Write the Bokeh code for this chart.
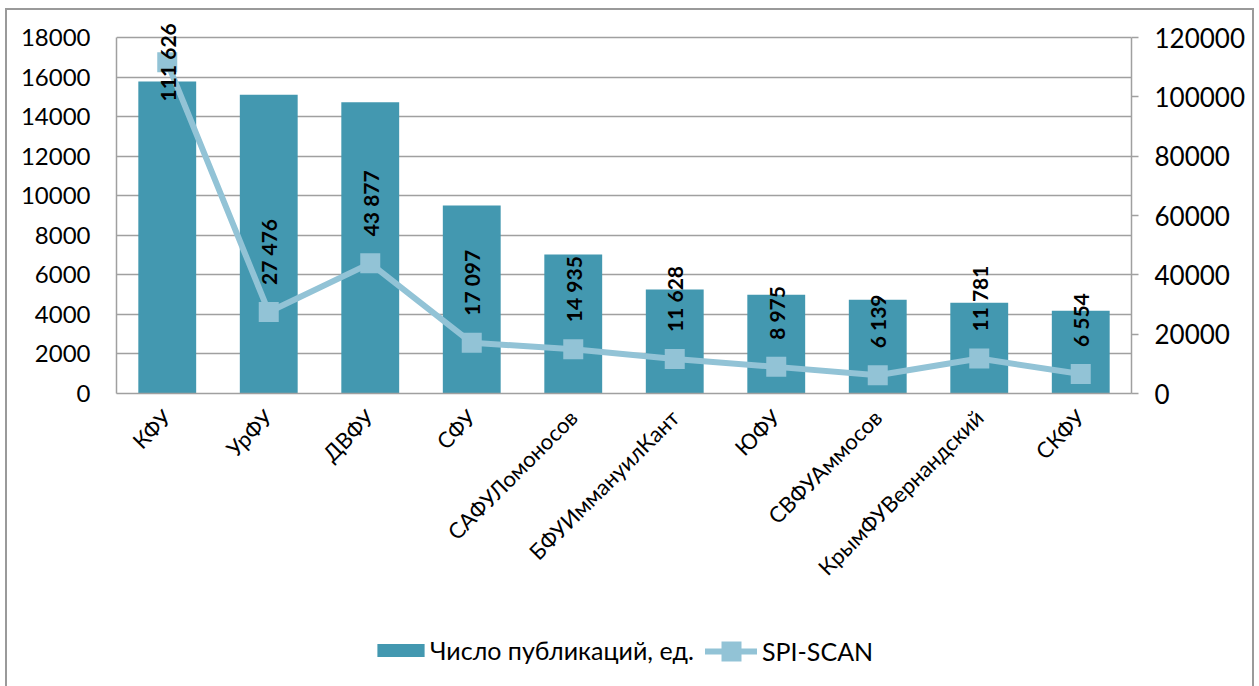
from bokeh.plotting import figure
from bokeh.models import (ColumnDataSource, FactorRange, Range1d, LinearAxis, FixedTicker,
                          Legend, LegendItem, NumeralTickFormatter)
from bokeh.layouts import column
from bokeh.core.properties import value
from bokeh.embed import file_html
from bokeh.resources import INLINE
import math

categories = ["КФУ", "УрФУ", "ДВФУ", "СФУ", "САФУЛомоносов", "БФУИммануилКант",
              "ЮФУ", "СВФУАммосов", "КрымФУВернандский", "СКФУ"]
publications = [15780, 15110, 14720, 9500, 7030, 5260, 4990, 4740, 4590, 4180]
spi_scan = [111626, 27476, 43877, 17097, 14935, 11628, 8975, 6139, 11781, 6554]
left_ticks = list(range(0, 18001, 2000))
right_ticks = list(range(0, 120001, 20000))
left_max, right_max = 18000, 120000

FONT = "Lato"
BAR = "#4398b0"
LINE = "#92c3d6"
GRID = "#a0a0a0"
BORDER = "#9a9a9a"

# layout (pixels)
W, H_MAIN, H_LEG = 1259, 620, 66
F_LEFT, F_RIGHT, F_BOTTOM, AX_TOP, F_TOP = 116, 1131, 393, 37, 17
scale_up = (F_BOTTOM - F_TOP) / (F_BOTTOM - AX_TOP)

labels = [f"{v:,}".replace(",", " ") for v in spi_scan]
aligns = ["center" if v > 90000 else "left" for v in spi_scan]
offs = [0 if v > 90000 else -27 for v in spi_scan]

src = ColumnDataSource(dict(cat=categories, pub=publications, spi=spi_scan,
                            lab=labels, al=aligns, off=offs))

p = figure(width=W, height=H_MAIN, x_range=FactorRange(*categories),
           y_range=Range1d(0, left_max * scale_up), output_backend="svg",
           toolbar_location=None,
           min_border_left=F_LEFT, min_border_right=W - F_RIGHT, min_border_top=F_TOP,
           min_border_bottom=H_MAIN - F_BOTTOM)
p.extra_y_ranges = {"spi": Range1d(0, right_max * scale_up)}
p.border_fill_color = None
p.background_fill_color = None

bars = p.vbar(x="cat", top="pub", width=0.57, source=src, fill_color=BAR, line_color=None)
ln = p.line(x="cat", y="spi", source=src, y_range_name="spi", line_color=LINE,
            line_width=6, line_cap="round", line_join="round")
sq = p.scatter(x="cat", y="spi", source=src, y_range_name="spi", marker="square",
               size=20, fill_color=LINE, line_color=None)
p.text(x="cat", y="spi", text="lab", source=src, y_range_name="spi",
       angle=math.pi / 2, text_align="al", text_baseline="middle", y_offset="off",
       text_font=value(FONT), text_font_size="21px", text_font_style="bold",
       text_color="black")

p.outline_line_color = None
p.xgrid.grid_line_color = None
p.ygrid.grid_line_color = GRID
p.ygrid.grid_line_width = 1.5
p.ygrid.ticker = FixedTicker(ticks=left_ticks)

ya = p.yaxis[0]
ya.ticker = FixedTicker(ticks=left_ticks)
ya.bounds = (0, left_max)
ya.axis_line_color = GRID
ya.axis_line_width = 1.5
ya.major_tick_line_color = None
ya.minor_tick_line_color = None
ya.major_tick_out = 0
ya.major_tick_in = 0
ya.major_label_standoff = 26
ya.major_label_text_font = FONT
ya.major_label_text_font_size = "24px"
ya.major_label_text_color = "black"

ra = LinearAxis(y_range_name="spi", ticker=FixedTicker(ticks=right_ticks),
                formatter=NumeralTickFormatter(format="0"))
ra.bounds = (0, right_max)
ra.axis_line_color = GRID
ra.axis_line_width = 1.5
ra.major_tick_line_color = GRID
ra.major_tick_line_width = 1.5
ra.major_tick_out = 7
ra.major_tick_in = 0
ra.minor_tick_line_color = None
ra.major_label_standoff = 16
ra.major_label_text_font = FONT
ra.major_label_text_font_size = "26px"
ra.major_label_text_color = "black"
p.add_layout(ra, "right")

xa = p.xaxis[0]
xa.axis_line_color = GRID
xa.axis_line_width = 1.5
xa.major_tick_line_color = None
xa.major_tick_out = 0
xa.major_label_orientation = math.pi / 4
xa.major_label_standoff = 20
xa.major_label_text_font = FONT
xa.major_label_text_font_size = "22px"
xa.major_label_text_color = "black"

# legend strip (its frame is aligned with the main frame by the column layout)
lf = figure(width=W, height=H_LEG, x_range=Range1d(0, 1), y_range=Range1d(0, 1),
            x_axis_type=None, y_axis_type=None, output_backend="svg",
            toolbar_location=None, min_border=0)
lf.outline_line_color = None
lf.border_fill_color = None
lf.background_fill_color = None
lf.xgrid.grid_line_color = None
lf.ygrid.grid_line_color = None
lb = lf.vbar(x=[-10], top=[-10], width=0.5, fill_color=BAR, line_color=None)
ll = lf.line(x=[-10, -9], y=[-10, -10], line_color=LINE, line_width=6, line_cap="round")
ls = lf.scatter(x=[-10], y=[-10], marker="square", size=20, fill_color=LINE, line_color=None)

leg1 = Legend(items=[LegendItem(label="Число публикаций, ед.", renderers=[lb])],
              location=(371 - F_LEFT, 21), orientation="horizontal", glyph_width=59,
              glyph_height=16, label_standoff=0, padding=0, margin=0,
              border_line_color=None, background_fill_alpha=0,
              label_text_font=FONT, label_text_font_size="25px", label_text_color="black")
leg2 = Legend(items=[LegendItem(label="SPI-SCAN", renderers=[ll, ls])],
              location=(705 - F_LEFT, 10), orientation="horizontal", glyph_width=52,
              glyph_height=50, label_standoff=5, padding=0, margin=0,
              border_line_color=None, background_fill_alpha=0,
              label_text_font=FONT, label_text_font_size="25px", label_text_color="black")
lf.add_layout(leg1, "center")
lf.add_layout(leg2, "center")

g = f"linear-gradient({BORDER}, {BORDER})"
layout = column(p, lf, spacing=0, styles={
    "background-image": f"{g}, {g}, {g}",
    "background-position": "5px 8px, 1252px 8px, 5px 8px",
    "background-size": "2px 100%, 2px 100%, 1249px 2px",
    "background-repeat": "no-repeat",
})

open("out.html", "w").write(file_html(layout, INLINE))
